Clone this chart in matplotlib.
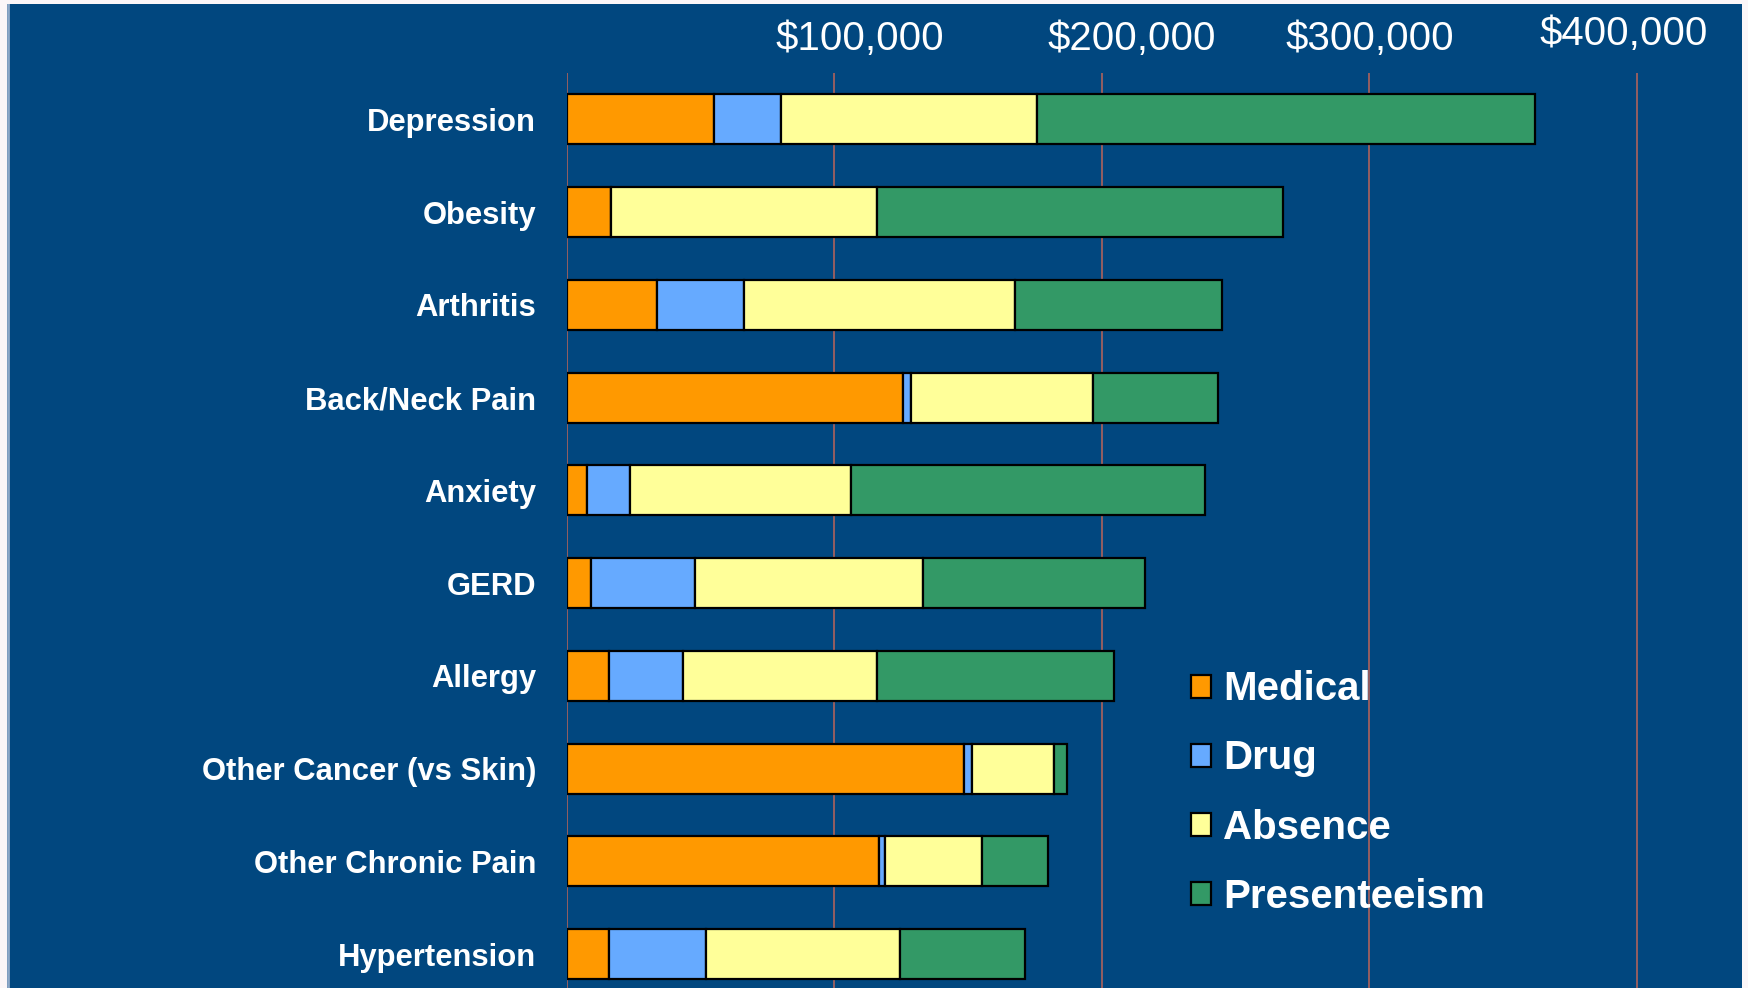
import matplotlib
matplotlib.use("Agg")
import matplotlib.pyplot as plt
import numpy as np
from matplotlib.transforms import ScaledTranslation

# cost per condition, in dollars
conditions = ["Depression", "Obesity", "Arthritis", "Back/Neck Pain", "Anxiety",
              "GERD", "Allergy", "Other Cancer (vs Skin)", "Other Chronic Pain",
              "Hypertension"]
medical = [55200, 16500, 33700, 125600, 7800, 9200, 15700, 148600, 116700, 15700]
drug = [24800, 0, 32500, 3100, 16000, 38700, 28000, 3100, 2300, 36600]
absence = [96000, 99600, 101500, 68000, 82400, 85500, 72400, 30400, 36400, 72200]
presenteeism = [186000, 151500, 77100, 46800, 132400, 82700, 88500, 4900, 24600, 46800]

series_names = ["Medical", "Drug", "Absence", "Presenteeism"]
colors = ["#ff9900", "#66aaff", "#ffff99", "#339966"]

tick_vals = [100000, 200000, 300000, 400000]
tick_labels = ["$100,000", "$200,000", "$300,000", "$400,000"]
# the labels in the original sit a bit off their gridlines (pixels)
tick_dx = [26, 30, 1, -13]
tick_dy = [0, 0, 0, 5]

NAVY = "#01477f"
W, H = 1748, 988

plt.rcParams["font.family"] = ["Liberation Sans", "DejaVu Sans"]

fig = plt.figure(figsize=(W / 100, H / 100), dpi=100, facecolor="#fbf6f8")

# slide background panel
bg = fig.add_axes([7 / W, 0, (1742 - 7) / W, (H - 4) / H])
bg.set_facecolor(NAVY)
bg.axvline(0.0008, color="#8fa9c8", linewidth=2)
bg.set_xlim(0, 1)
bg.set_xticks([])
bg.set_yticks([])
for s in bg.spines.values():
    s.set_visible(False)

ax_left, ax_top = 566.5, 73
unit = 92.75          # px per category
px100k = 267.6        # px per $100k
xmax = 410000
ax = fig.add_axes([ax_left / W, (H - ax_top - 10 * unit) / H,
                   xmax / 100000 * px100k / W, 10 * unit / H])
ax.set_facecolor("none")

y = np.arange(len(conditions))
left = np.zeros(len(conditions))
for name, vals, c in zip(series_names, [medical, drug, absence, presenteeism], colors):
    ax.barh(y, vals, left=left, height=0.54, color=c, edgecolor="black",
            linewidth=1.6, label=name, zorder=3)
    left += np.array(vals)

ax.set_xlim(0, xmax)
ax.set_ylim(len(conditions) - 0.5, -0.5)
ax.set_yticks(y)
ax.set_yticklabels(conditions, fontsize=22.3, fontweight="bold", color="white")
ax.tick_params(axis="y", length=0, pad=22)

ax.xaxis.tick_top()
ax.set_xticks(tick_vals)
ax.set_xticklabels(tick_labels, fontsize=29, color="white")
ax.tick_params(axis="x", length=0, pad=11)
for lab, dx, dy in zip(ax.get_xticklabels(), tick_dx, tick_dy):
    lab.set_transform(lab.get_transform() +
                      ScaledTranslation(dx / 100, dy / 100, fig.dpi_scale_trans))

for v in [0] + tick_vals:
    ax.axvline(v, color="#a0605e", linewidth=1.3, zorder=1)
for s in ax.spines.values():
    s.set_visible(False)

leg = ax.legend(loc="center left", bbox_to_anchor=(1191 / W, 1 - 793 / H),
                bbox_transform=fig.transFigure, frameon=False,
                prop={"size": 29, "weight": "bold"}, labelcolor="white",
                handlelength=0.5, handleheight=0.5, handletextpad=0.3,
                labelspacing=0.77, borderpad=0, borderaxespad=0)
leg.set_zorder(5)

fig.savefig("out.png", dpi=100, facecolor=fig.get_facecolor())
